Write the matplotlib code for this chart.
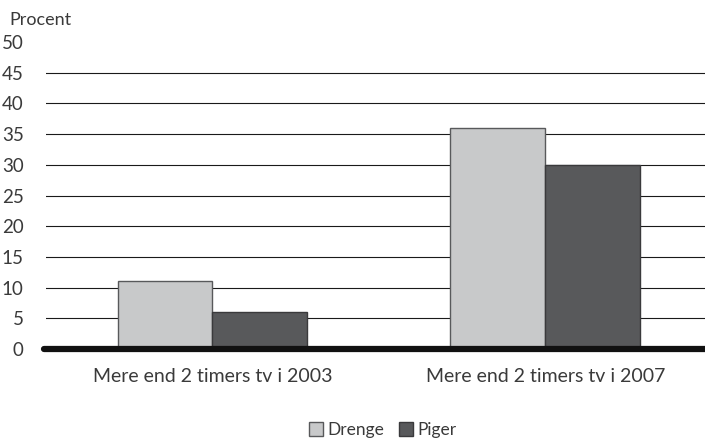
import numpy as np
import matplotlib.pyplot as plt

categories = ["Mere end 2 timers tv i 2003", "Mere end 2 timers tv i 2007"]
drenge = [11, 36]
piger = [6, 30]
yticks = [0, 5, 10, 15, 20, 25, 30, 35, 40, 45, 50]

plt.rcParams['font.family'] = ['Lato', 'DejaVu Sans']

fig = plt.figure(figsize=(7.05, 4.38), dpi=100)
ax = fig.add_axes([0.0652, 0.2032, 0.9348, 0.7009])

x = np.arange(len(categories))
w = 0.285
ax.bar(x - w/2, drenge, w, color="#c8c9ca", edgecolor="#58595b", linewidth=1, label="Drenge", zorder=3)
ax.bar(x + w/2, piger, w, color="#58595b", edgecolor="#3a3a3c", linewidth=1, label="Piger", zorder=3)

ax.set_ylim(0, 50)
ax.set_xlim(-0.5, 1.48)
ax.set_yticks(yticks)
ax.set_yticklabels([str(t) for t in yticks])
for t in yticks[1:-1]:
    ax.axhline(t, color="#1a1a1a", linewidth=0.8, zorder=1)
ax.axhline(0, xmin=-0.003, color="#111111", linewidth=4.5, zorder=4,
           solid_capstyle="round", clip_on=False)

ax.set_xticks(x)
ax.set_xticklabels(categories)
ax.tick_params(axis="x", length=0, pad=14, labelsize=14, colors="#3a3a3a")
ax.tick_params(axis="y", length=0, pad=16, labelsize=13.5, colors="#3a3a3a")
for s in ax.spines.values():
    s.set_visible(False)

fig.text(0.014, 0.955, "Procent", fontsize=13, color="#3a3a3a", va="center", ha="left")

fig.legend(loc="center", bbox_to_anchor=(0.543, 0.018), ncol=2, frameon=False,
           fontsize=12.5, handlelength=0.8, handleheight=0.8, handletextpad=0.3,
           columnspacing=0.8, labelcolor="#3a3a3a")

fig.savefig("out.png", dpi=100)
